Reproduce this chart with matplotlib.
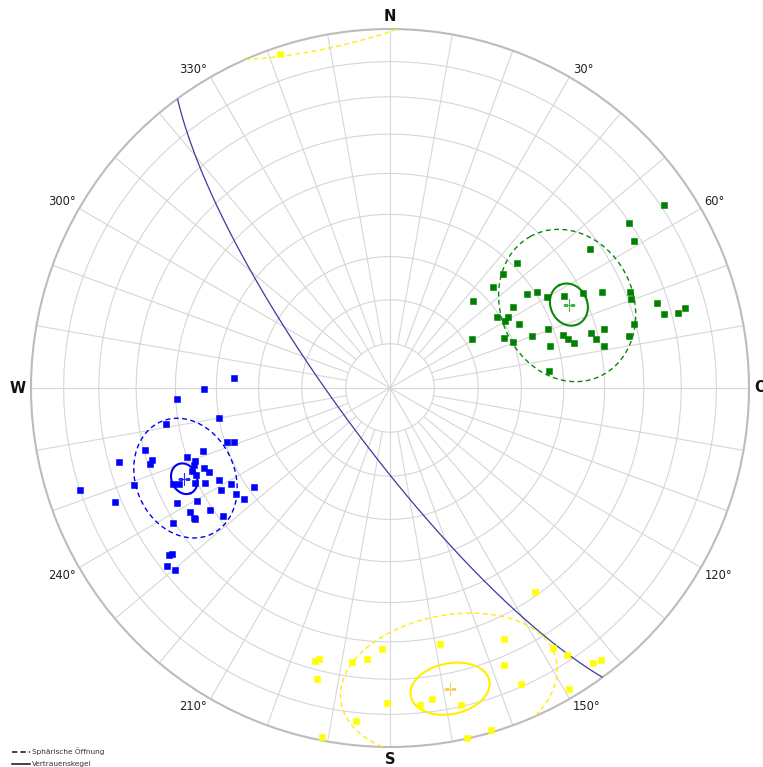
import numpy as np
import matplotlib
matplotlib.use("Agg")
import matplotlib.pyplot as plt
from matplotlib.lines import Line2D

# ---- pole data: trend / plunge in degrees (lower hemisphere) ----
green_trend = [56.3, 55.5, 58.9, 55.2, 45.5, 44.6, 45.6, 43.7, 55.5, 56.8,
               59.9, 62.0, 63.9, 65.6, 68.1, 69.7, 72.3, 74.9, 75.3, 74.8,
               56.7, 56.4, 58.8, 59.7, 63.7, 75.3, 59.4, 66.1, 69.4, 70.0,
               69.7, 72.8, 74.5, 76.4, 74.8, 76.6, 74.7, 77.7, 79.0, 75.4,
               83.8]
green_plunge = [9.0, 20.2, 21.7, 32.7, 48.9, 53.2, 57.0, 62.6, 51.9, 49.5,
                48.0, 44.4, 39.8, 35.3, 28.8, 29.2, 22.9, 22.0, 18.3, 16.0,
                56.3, 60.8, 58.5, 59.7, 57.2, 30.3, 68.3, 61.6, 59.9, 55.3,
                51.2, 48.3, 47.3, 46.1, 41.5, 40.6, 38.1, 32.3, 39.2, 51.9,
                53.3]

blue_trend = [273.8, 269.6, 267.0, 260.8, 260.0, 251.6, 251.0, 255.8, 251.5, 251.2,
              249.5, 254.7, 253.1, 252.4, 248.6, 246.7, 245.0, 247.2, 245.8, 241.8,
              239.0, 246.1, 245.5, 244.0, 242.7, 249.2, 238.8, 235.4, 232.8, 234.0,
              251.8, 247.5, 241.5, 239.6, 235.8, 238.2, 236.5, 236.1, 232.6, 238.1,
              232.9, 232.6, 231.4, 229.7]
blue_plunge = [54.1, 46.9, 40.4, 36.9, 49.9, 50.4, 52.1, 30.4, 44.2, 40.0,
               41.7, 22.8, 31.2, 30.5, 40.9, 42.9, 43.8, 40.0, 40.5, 45.1,
               47.1, 34.3, 35.7, 39.3, 41.6, 24.8, 44.2, 46.7, 47.7, 51.4,
               10.1, 18.3, 33.1, 37.8, 39.3, 34.8, 34.9, 34.9, 41.0, 29.6,
               24.0, 24.7, 21.5, 22.6]

yellow_trend = [144.6, 155.6, 168.9, 181.8, 195.3, 194.6, 187.8, 184.9, 157.6, 147.9,
                146.4, 143.6, 142.2, 194.1, 156.1, 149.3, 180.5, 174.5, 172.3, 167.4,
                185.9, 191.0, 167.5, 163.6, 341.8]
yellow_plunge = [30.9, 24.1, 28.1, 28.2, 22.2, 23.0, 24.0, 25.2, 17.8, 15.7,
                 11.7, 5.5, 4.7, 17.5, 10.7, 2.9, 13.2, 12.4, 13.5, 10.3,
                 7.4, 1.1, 0.3, 0.8, 2.3]

# ---- mean orientations, confidence cones and spherical apertures (deg) ----
mean_trend = [65.0, 246.2, 168.7]
mean_plunge = [44.2, 37.4, 15.5]
cone_angle = [4.5, 3.2, 7.2]
aperture_angle = [16.3, 12.5, 19.8]

# ---- a single plane drawn as great circle ----
plane_dipdir = 233.7
plane_dip = 78.0

# ---- net layout ----
ring_angles = [10, 20, 30, 40, 50, 60, 70, 80]
ray_azimuths = list(range(0, 360, 10))
degree_labels = [30, 60, 120, 150, 210, 240, 300, 330]
cardinal_labels = ["N", "O", "S", "W"]
legend_labels = ["Sphärische Öffnung", "Vertrauenskegel"]

set_colors = ["#008000", "#0000ff", "#ffff00"]
cone_colors = ["#0b870b", "#0000ee", "#ffee00"]
mean_colors = ["#46b046", "#2a2aff", "#f0d060"]


def to_vec(trend, plunge):
    t = np.radians(np.asarray(trend, float))
    p = np.radians(np.asarray(plunge, float))
    return np.cos(p) * np.cos(t), np.cos(p) * np.sin(t), np.sin(p)


def project(n, e, d):
    """Equal-area (Schmidt) lower-hemisphere projection -> (theta, r)."""
    n, e, d = np.asarray(n, float), np.asarray(e, float), np.asarray(d, float)
    flip = d < 0
    n = np.where(flip, -n, n)
    e = np.where(flip, -e, e)
    d = np.where(flip, -d, d)
    return np.arctan2(e, n), np.sqrt(np.clip(1.0 - d, 0, None)), flip


def ring_radius(angle_from_centre):
    return np.sqrt(2.0) * np.sin(np.radians(angle_from_centre) / 2.0)


def small_circle(trend, plunge, alpha, num=721):
    m = np.array(to_vec(trend, plunge))
    ref = np.array([0.0, 0.0, 1.0]) if abs(m[2]) < 0.9 else np.array([1.0, 0.0, 0.0])
    u = np.cross(m, ref)
    u /= np.linalg.norm(u)
    w = np.cross(m, u)
    phi = np.linspace(0, 2 * np.pi, num)
    a = np.radians(alpha)
    pts = (np.cos(a) * m[:, None]
           + np.sin(a) * (np.cos(phi)[None, :] * u[:, None] + np.sin(phi)[None, :] * w[:, None]))
    theta, r, flip = project(pts[0], pts[1], pts[2])
    # split into pieces wherever the curve wraps to the opposite side
    pieces = []
    start = 0
    for i in range(1, num):
        if flip[i] != flip[i - 1]:
            pieces.append((theta[start:i], r[start:i]))
            start = i
    pieces.append((theta[start:], r[start:]))
    # join first and last piece if they are on the same side
    if len(pieces) > 1 and flip[0] == flip[-1]:
        t0, r0 = pieces.pop(0)
        tl, rl = pieces.pop(-1)
        pieces.append((np.concatenate([tl, t0]), np.concatenate([rl, r0])))
    return pieces


W, H = 763, 767
fig = plt.figure(figsize=(W / 100, H / 100), dpi=100)
cx, cy, R = 390.0, 388.0, 359.0
ax = fig.add_axes([(cx - R) / W, (H - cy - R) / H, 2 * R / W, 2 * R / H],
                  projection="polar")
ax.set_theta_zero_location("N")
ax.set_theta_direction(-1)
ax.set_rlim(0, 1)
ax.grid(False)
ax.set_xticks([])
ax.set_yticks([])
ax.spines["polar"].set_color("#bcbcbc")
ax.spines["polar"].set_linewidth(1.5)

grid_kw = dict(color="#d6d6d6", lw=0.8, zorder=1)
tt = np.linspace(0, 2 * np.pi, 720)
for ang in ring_angles:
    ax.plot(tt, np.full_like(tt, ring_radius(ang)), **grid_kw)
for az in ray_azimuths:
    r0 = 0.0 if az % 30 == 0 else ring_radius(10)
    ax.plot([np.radians(az)] * 2, [r0, 1.0], **grid_kw)

# great circle of the plane
s = np.array(to_vec(plane_dipdir - 90.0, 0.0))
dvec = np.array(to_vec(plane_dipdir, plane_dip))
tq = np.linspace(0, np.pi, 400)
gc = np.cos(tq)[None, :] * s[:, None] + np.sin(tq)[None, :] * dvec[:, None]
gth, gr, _ = project(gc[0], gc[1], gc[2])
ax.plot(gth, gr, color="#3b3ba0", lw=0.9, zorder=3)

# pole sets
sets = [(green_trend, green_plunge), (blue_trend, blue_plunge), (yellow_trend, yellow_plunge)]
for (tr, pl), col in zip(sets, set_colors):
    th, r, _ = project(*to_vec(tr, pl))
    ax.plot(th, r, ls="none", marker="s", ms=4.8, mfc=col, mec=col, mew=0.4,
            zorder=5, clip_on=False)

# cones and means
for i in range(3):
    for th, r in small_circle(mean_trend[i], mean_plunge[i], aperture_angle[i]):
        ax.plot(th, r, color=cone_colors[i], lw=1.0, ls=(0, (3.5, 2.5)), zorder=4)
    for th, r in small_circle(mean_trend[i], mean_plunge[i], cone_angle[i]):
        ax.plot(th, r, color=cone_colors[i], lw=1.5, zorder=4)
    th, r, _ = project(*to_vec(mean_trend[i], mean_plunge[i]))
    ax.plot(th, r, ls="none", marker="+", ms=8, mew=0.8, color=mean_colors[i], zorder=6)

# azimuth labels around the primitive
for az in degree_labels:
    ha = "left" if az < 180 else "right"
    va = "bottom" if (az < 90 or az > 270) else "top"
    dx = 2.5 if az < 180 else -2.5
    dy = 0.5 if va == "bottom" else -1
    ax.annotate(f"{az}°", xy=(np.radians(az), 1.0), xytext=(dx, dy),
                textcoords="offset points", ha=ha, va=va, fontsize=8.3,
                family="DejaVu Sans", color="#222222", annotation_clip=False)

card_pos = {"N": (0, (0, 3.5), "center", "bottom"),
            "O": (90, (3.5, 0), "left", "center"),
            "S": (180, (0, -3.5), "center", "top"),
            "W": (270, (-3.5, 0), "right", "center")}
for lab in cardinal_labels:
    az, off, ha, va = card_pos[lab]
    ax.annotate(lab, xy=(np.radians(az), 1.0), xytext=off, textcoords="offset points",
                ha=ha, va=va, fontsize=10.5, fontweight="bold", color="#111111",
                annotation_clip=False)

# legend in the lower left corner
leg_y = [751.5, 764.0]
leg_styles = [(0, (3.5, 2.0)), "-"]
for lab, yy, ls in zip(legend_labels, leg_y, leg_styles):
    fy = (H - yy) / H
    fig.add_artist(Line2D([12 / W, 30 / W], [fy, fy], color="#111111", lw=1.1, ls=ls,
                          transform=fig.transFigure))
    fig.text(32 / W, fy, lab, fontsize=5.3, va="center", ha="left", color="#333333")

fig.savefig("out.png", dpi=100)
